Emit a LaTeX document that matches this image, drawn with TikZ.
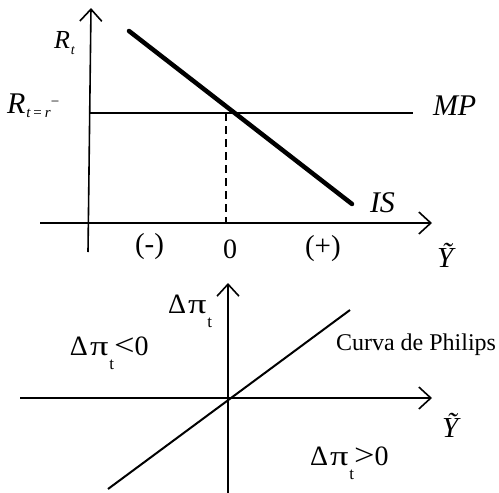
\documentclass[tikz,border=0pt]{standalone}
\usepackage{fontspec}
\setmainfont{Liberation Serif}
\usetikzlibrary{arrows.meta}
\newcommand\fs[1]{\fontsize{#1}{#1}\selectfont}
\newcommand\dpit{\fs{28}Δ\hspace{2pt}\scalebox{1.3}[1]{π}\hspace{1pt}\raisebox{-14pt}{\fs{17}t}}
\begin{document}
\begin{tikzpicture}[x=1pt,y=-1pt,
  axis/.style={line width=1.6pt,-{Straight Barb[length=12pt,width=22pt,line width=1.6pt]}},
  thinline/.style={line width=1.6pt},
  isline/.style={line width=4.5pt,line cap=round},
  pcline/.style={line width=2pt},
  dashline/.style={line width=1.6pt,dash pattern=on 8pt off 5pt},
  lbl/.style={anchor=base west,inner sep=0pt,outer sep=0pt}]
\useasboundingbox (0,0) rectangle (499,493);
% ---- top graph ----
\coordinate (v1s) at (88,252);
\coordinate (v1e) at (91,8);
\coordinate (h1s) at (40,223);
\coordinate (h1e) at (432,223);
\coordinate (mps) at (90,113);
\coordinate (mpe) at (413,113);
\coordinate (iss) at (129,31);
\coordinate (ise) at (352,204);
\coordinate (d1) at (226,113);
\coordinate (d2) at (226,223);
\draw[axis] (v1s) -- (v1e);
\draw[axis] (h1s) -- (h1e);
\draw[thinline] (mps) -- (mpe);
\draw[dashline] (d1) -- (d2);
\draw[isline] (iss) -- (ise);
\node[lbl] (rt) at (54,48) {\fs{26}\itshape R\hspace{1pt}\raisebox{-6pt}{\fs{14}t}};
\node[lbl] (rtr) at (7,113) {\fs{30}\itshape R\hspace{1pt}\raisebox{-4pt}{\fs{15}t\hspace{3pt}\upshape=\hspace{3pt}\itshape r}\raisebox{6.5pt}{\fs{15}\upshape −}};
\node[lbl] (mp) at (433,115) {\fs{30}\itshape MP};
\node[lbl] (is) at (370,212) {\fs{30}\itshape IS};
\node[lbl] (y1) at (437,267) {\fs{29}\itshape \~Y};
\node[lbl] (neg) at (135,253) {\fs{29}(-)};
\node[lbl] (zero) at (223,258) {\fs{28}0};
\node[lbl] (pos) at (305,255) {\fs{29}(+)};
% ---- bottom graph ----
\coordinate (v2s) at (228,493);
\coordinate (v2e) at (228,283);
\coordinate (h2s) at (20,398);
\coordinate (h2e) at (432,398);
\coordinate (ps) at (108,489);
\coordinate (pe) at (350,310);
\draw[axis] (v2s) -- (v2e);
\draw[axis] (h2s) -- (h2e);
\draw[pcline] (ps) -- (pe);
\node[lbl] (dp) at (168,313) {\dpit};
\node[lbl] (dpneg) at (70,355) {\dpit\fs{28}\scalebox{1.3}[1.1]{<}0};
\node[lbl] (dppos) at (310,465) {\dpit\fs{28}\scalebox{1.3}[1.1]{>}0};
\node[lbl] (curva) at (336,350) {\fs{24}Curva de Philips};
\node[lbl] (y2) at (442,437) {\fs{29}\itshape \~Y};
\end{tikzpicture}
\end{document}
